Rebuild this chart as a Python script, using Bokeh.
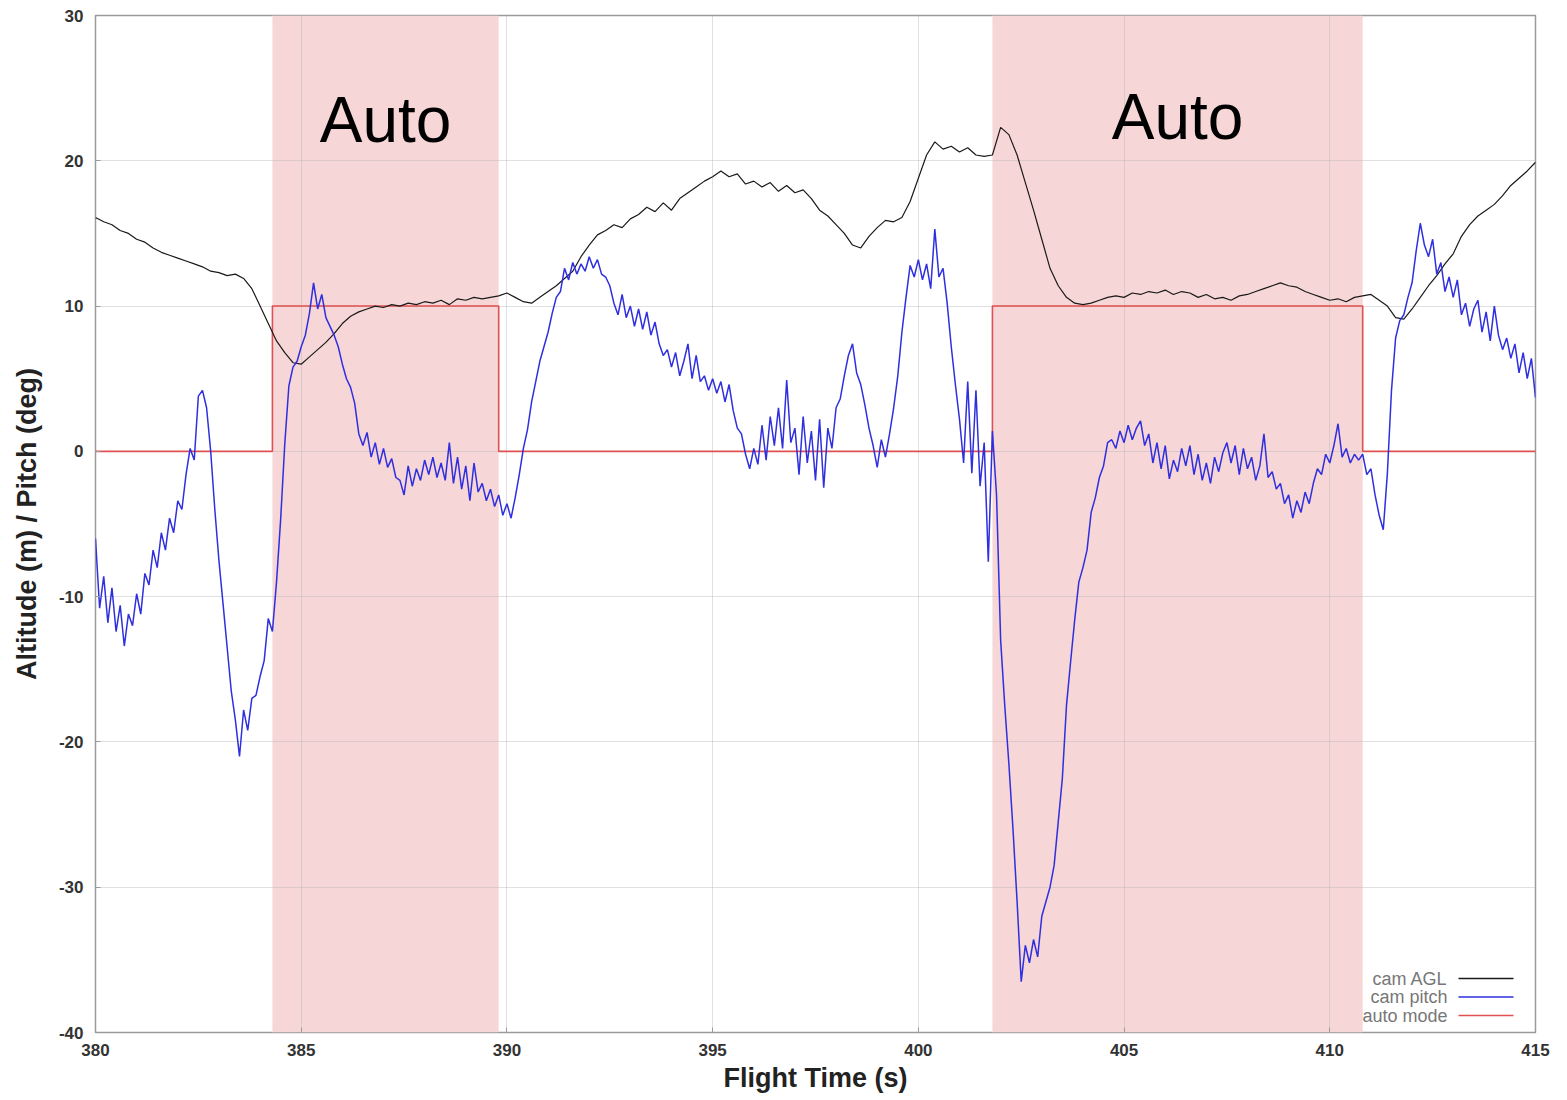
from bokeh.plotting import figure
from bokeh.models import FixedTicker, BoxAnnotation, Label, Arrow, Range1d
from bokeh.embed import file_html
from bokeh.resources import INLINE

# ---- data -------------------------------------------------------------
# camera pitch (deg), sampled every 0.1 s from 380.0 s
pitch_t0, pitch_dt = 380.0, 0.1
cam_pitch = [
    -6.0, -10.8, -8.6, -11.8, -9.4, -12.4, -10.6, -13.4, -11.2, -12.0,   # 380
    -9.8, -11.2, -8.4, -9.2, -6.8, -8.0, -5.6, -6.8, -4.6, -5.6,         # 381
    -3.4, -4.0, -1.6, 0.2, -0.6, 3.8, 4.2, 3.0, 0.0, -4.0,               # 382
    -7.5, -10.5, -13.5, -16.5, -18.5, -21.0, -17.8, -19.2, -17.0, -16.8, # 383
    -15.5, -14.4, -11.5, -12.4, -9.0, -4.7, 0.5, 4.5, 5.8, 6.2,          # 384
    7.2, 8.0, 9.5, 11.6, 9.8, 10.8, 9.2, 8.6, 8.0, 7.2,                  # 385
    6.0, 5.0, 4.4, 3.3, 1.2, 0.4, 1.3, -0.4, 0.6, -0.9,                  # 386
    0.2, -1.1, -0.5, -1.8, -2.0, -3.0, -1.0, -2.4, -1.2, -2.0,           # 387
    -0.6, -1.6, -0.4, -1.8, -0.8, -2.0, 0.6, -2.2, -0.4, -2.6,           # 388
    -1.0, -3.4, -0.8, -2.8, -2.2, -3.4, -2.6, -3.8, -3.0, -4.4,          # 389
    -3.6, -4.6, -3.2, -1.6, 0.2, 1.5, 3.4, 4.8, 6.2, 7.2,                # 390
    8.2, 9.5, 10.6, 11.0, 12.6, 11.8, 13.0, 12.2, 12.9, 12.4,            # 391
    13.4, 12.6, 13.2, 12.2, 12.0, 11.4, 10.2, 9.4, 10.8, 9.2,            # 392
    10.0, 8.6, 9.8, 8.4, 9.6, 8.0, 8.9, 7.4, 6.6, 7.0,                   # 393
    5.8, 6.8, 5.2, 6.2, 7.4, 5.0, 6.6, 4.8, 5.2, 4.2,                    # 394
    5.0, 4.0, 4.8, 3.4, 4.6, 2.8, 1.6, 1.2, -0.2, -1.2,                  # 395
    0.2, -0.9, 1.8, -0.6, 2.4, 0.4, 3.0, 0.2, 4.9, 0.6,                  # 396
    1.6, -1.6, 2.4, -0.8, 1.4, -2.0, 2.2, -2.5, 1.6, 0.2,                # 397
    3.0, 3.6, 5.2, 6.6, 7.4, 5.4, 4.6, 3.2, 1.6, 0.4,                    # 398
    -1.1, 0.8, -0.4, 1.2, 3.0, 5.2, 8.2, 10.6, 12.8, 12.0,               # 399
    13.2, 11.8, 12.9, 11.2, 15.3, 12.0, 12.6, 10.2, 7.2, 4.6,            # 400
    2.2, -0.8, 4.8, -1.5, 4.2, -2.4, 0.6, -7.6, 1.4, -3.0,               # 401
    -13.0, -17.5, -21.5, -26.0, -31.0, -36.5, -34.0, -35.2, -33.6, -34.8, # 402
    -32.0, -31.0, -30.0, -28.5, -25.5, -22.5, -17.5, -14.5, -11.6, -9.0, # 403
    -8.0, -6.8, -4.2, -3.2, -1.8, -1.0, 0.6, 0.8, 0.2, 1.4,              # 404
    0.6, 1.8, 0.8, 1.6, 2.1, 0.4, 1.2, -0.8, 0.6, -1.2,                  # 405
    0.4, -1.9, -0.6, -1.4, 0.2, -1.0, 0.4, -1.6, -0.2, -2.0,             # 406
    -0.8, -2.2, -0.4, -1.4, -0.1, 0.6, -0.8, 0.4, -1.6, 0.2,             # 407
    -1.2, -0.4, -2.0, -1.0, 1.2, -1.8, -1.4, -2.6, -2.2, -3.6,           # 408
    -3.0, -4.6, -3.4, -4.2, -2.8, -3.6, -2.2, -1.2, -1.6, -0.2,          # 409
    -0.8, 0.4, 1.9, -0.4, 0.2, -0.8, -0.2, -0.6, -0.2, -1.6,             # 410
    -1.2, -3.0, -4.4, -5.4, -1.5, 4.2, 7.8, 9.0, 9.4, 10.6,              # 411
    11.6, 13.8, 15.7, 14.2, 13.4, 14.6, 12.2, 13.0, 11.0, 12.0,          # 412
    10.6, 11.8, 9.4, 10.2, 8.6, 9.8, 10.4, 8.2, 9.6, 7.6,                # 413
    10.0, 8.0, 7.0, 7.8, 6.4, 7.4, 5.4, 6.8, 5.0, 6.4,                   # 414
    3.7,                                                                 # 415
]

# camera height above ground (m), sampled every 0.2 s from 380.0 s
agl_t0, agl_dt = 380.0, 0.2
cam_agl = [
    16.1, 15.8, 15.6, 15.2, 15.0,   # 380
    14.6, 14.4, 14.0, 13.7, 13.5,   # 381
    13.3, 13.1, 12.9, 12.7, 12.4,   # 382
    12.3, 12.1, 12.2, 11.9, 11.2,   # 383
    10.0, 8.8, 7.6, 6.8, 6.1,       # 384
    6.0, 6.5, 7.0, 7.5, 8.1,        # 385
    8.8, 9.3, 9.6, 9.8, 10.0,       # 386
    9.9, 10.1, 10.0, 10.2, 10.1,    # 387
    10.3, 10.2, 10.4, 10.1, 10.5,   # 388
    10.4, 10.6, 10.5, 10.6, 10.7,   # 389
    10.9, 10.6, 10.3, 10.2, 10.6,   # 390
    11.0, 11.4, 11.9, 12.4, 13.4,   # 391
    14.2, 14.9, 15.2, 15.6, 15.4,   # 392
    16.0, 16.3, 16.8, 16.5, 17.1,   # 393
    16.6, 17.4, 17.8, 18.2, 18.6,   # 394
    18.9, 19.3, 18.9, 19.1, 18.4,   # 395
    18.6, 18.2, 18.5, 17.9, 18.3,   # 396
    17.8, 18.0, 17.4, 16.6, 16.2,   # 397
    15.6, 15.0, 14.2, 14.0, 14.8,   # 398
    15.4, 15.9, 15.8, 16.1, 17.2,   # 399
    18.8, 20.4, 21.3, 20.8, 21.0,   # 400
    20.6, 20.9, 20.4, 20.3, 20.4,   # 401
    22.3, 21.8, 20.4, 18.5, 16.6,   # 402
    14.6, 12.6, 11.4, 10.6, 10.2,   # 403
    10.1, 10.2, 10.4, 10.6, 10.7,   # 404
    10.6, 10.9, 10.8, 11.0, 10.9,   # 405
    11.1, 10.8, 11.0, 10.9, 10.6,   # 406
    10.8, 10.5, 10.6, 10.4, 10.7,   # 407
    10.8, 11.0, 11.2, 11.4, 11.6,   # 408
    11.4, 11.3, 11.0, 10.8, 10.6,   # 409
    10.4, 10.5, 10.3, 10.6, 10.7,   # 410
    10.8, 10.4, 10.0, 9.2, 9.1,     # 411
    9.8, 10.6, 11.4, 12.1, 12.9,    # 412
    13.6, 14.8, 15.6, 16.2, 16.6,   # 413
    17.0, 17.6, 18.3, 18.8, 19.3,   # 414
    19.9,                           # 415
]

# autopilot engaged intervals (s) and the level drawn for the mode flag
auto_on = [384.3, 401.8]
auto_off = [389.8, 410.8]
auto_level = 10
auto_text = "Auto"
auto_text_y = [22.8, 23.0]

x_ticks = [380, 385, 390, 395, 400, 405, 410, 415]
y_ticks = [-40, -30, -20, -10, 0, 10, 20, 30]
legend_labels = ["cam AGL", "cam pitch", "auto mode"]

# ---- derived series ---------------------------------------------------
pitch_t = [pitch_t0 + i * pitch_dt for i in range(len(cam_pitch))]
agl_t = [agl_t0 + i * agl_dt for i in range(len(cam_agl))]

mode_x = [x_ticks[0]]
mode_y = [0]
for on, off in zip(auto_on, auto_off):
    mode_x += [on, on, off, off]
    mode_y += [0, auto_level, auto_level, 0]
mode_x.append(x_ticks[-1])
mode_y.append(0)

# ---- figure -----------------------------------------------------------
AGL_COLOR = "#1a1a1a"
PITCH_COLOR = "#2f2fe0"
MODE_COLOR = "#e05050"
SHADE = "#f6d6d6"

p = figure(width=1567, height=1100,
           x_range=Range1d(x_ticks[0], x_ticks[-1]),
           y_range=Range1d(y_ticks[0], y_ticks[-1]),
           output_backend="svg", toolbar_location=None,
           min_border_left=95, min_border_right=32,
           min_border_top=15, min_border_bottom=68)
p.background_fill_color = "white"
p.border_fill_color = "white"
p.outline_line_color = "#9a9a9a"
p.outline_line_width = 1.5

for on, off in zip(auto_on, auto_off):
    p.add_layout(BoxAnnotation(left=on, right=off, fill_color=SHADE,
                               fill_alpha=1.0, line_color=None, level="image"))

p.line(mode_x, mode_y, line_color=MODE_COLOR, line_width=1.6)
p.line(agl_t, cam_agl, line_color=AGL_COLOR, line_width=1.2)
p.line(pitch_t, cam_pitch, line_color=PITCH_COLOR, line_width=1.5)

for on, off, ty in zip(auto_on, auto_off, auto_text_y):
    p.add_layout(Label(x=(on + off) / 2, y=ty, text=auto_text,
                       text_align="center", text_baseline="alphabetic",
                       text_font="Liberation Sans", text_font_size="64px",
                       text_color="black"))

# axes
for ax, ticks in ((p.xaxis, x_ticks), (p.yaxis, y_ticks)):
    ax.ticker = FixedTicker(ticks=ticks)
    ax.major_label_overrides = {t: str(t) for t in ticks}
    ax.axis_line_color = None
    ax.major_tick_in = 5
    ax.major_tick_out = 0
    ax.major_tick_line_color = "#9a9a9a"
    ax.minor_tick_line_color = None
    ax.major_label_text_font = "Liberation Sans"
    ax.major_label_text_font_style = "bold"
    ax.major_label_text_font_size = "17px"
    ax.major_label_text_color = "#333333"
    ax.axis_label_text_font = "Liberation Sans"
    ax.axis_label_text_font_style = "bold"
    ax.axis_label_text_font_size = "27px"
    ax.axis_label_text_color = "#222222"

p.xaxis.axis_label = "Flight Time (s)"
p.yaxis.axis_label = "Altitude (m) / Pitch (deg)"
p.xaxis.major_label_standoff = 11
p.yaxis.major_label_standoff = 12
p.xaxis.axis_label_standoff = 4
p.yaxis.axis_label_standoff = 14

p.xgrid.grid_line_color = "#bbbbbb"
p.ygrid.grid_line_color = "#bbbbbb"
p.xgrid.grid_line_alpha = 0.45
p.ygrid.grid_line_alpha = 0.45

# legend: labels on the left, line samples on the right (frame-relative px)
for i, (lab, col) in enumerate(zip(legend_labels, [AGL_COLOR, PITCH_COLOR, MODE_COLOR])):
    row_y = 54 - 18.5 * i
    p.add_layout(Label(x=1352, y=row_y, x_units="screen", y_units="screen",
                       text=lab, text_align="right", text_baseline="middle",
                       text_font="Liberation Sans", text_font_size="18px",
                       text_color="#777777"))
    p.add_layout(Arrow(x_start=1363, y_start=row_y, x_end=1418, y_end=row_y,
                       start_units="screen", end_units="screen", end=None,
                       line_color=col, line_width=1.4))

open("out.html", "w").write(file_html(p, INLINE))
